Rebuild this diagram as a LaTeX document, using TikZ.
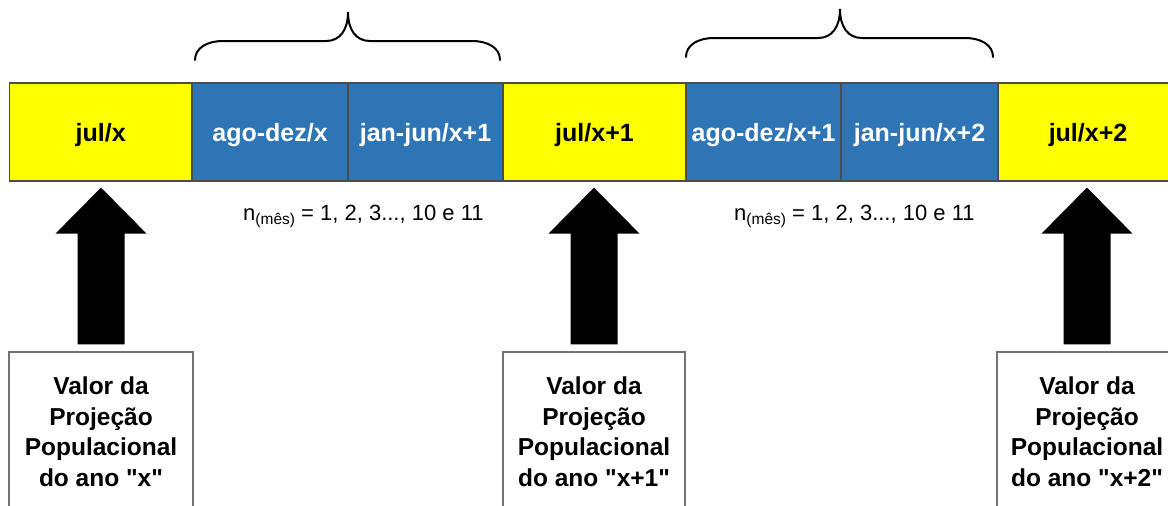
\documentclass[tikz,border=0pt]{standalone}
\usepackage{fontspec}
\setmainfont{Liberation Sans}[Ligatures=TeXOff]
\usetikzlibrary{calc}
\definecolor{cblue}{HTML}{2E75B6}
\definecolor{cyel}{HTML}{FFFF00}
\begin{document}
\begin{tikzpicture}[x=1pt,y=-1pt,
 cell/.style={draw=black!70, line width=1.2pt, minimum height=98pt, inner sep=0pt, text height=19pt, text depth=0pt, font=\fontsize{25}{25}\selectfont\bfseries},
 ycell/.style={cell, fill=cyel, text=black},
 bcell/.style={cell, fill=cblue, text=white},
 pbox/.style={draw=black!55, line width=1.2pt, fill=white, minimum height=170pt, inner sep=0pt},
 ptext/.style={inner sep=0pt, align=center, anchor=north, font=\fontsize{24.5}{30.7}\selectfont\bfseries},
 brace/.style={line width=2pt, line cap=round},
 ntext/.style={inner sep=0pt, anchor=base west, font=\fontsize{22}{22}\selectfont},
 blockarrow/.style={fill=black}
]
\path[use as bounding box, clip] (0,0) rectangle (1168,506);

% timeline cells
\node[ycell, minimum width=182.5pt] (c1) at (100.75,132) {jul/x};
\node[bcell, minimum width=156pt] (c2) at (270,132) {ago-dez/x};
\node[bcell, minimum width=155pt] (c3) at (425.5,132) {jan-jun/x+1};
\node[ycell, minimum width=183pt] (c4) at (594.5,132) {jul/x+1};
\node[bcell, minimum width=155pt] (c5) at (763.5,132) {ago-dez/x+1};
\node[bcell, minimum width=157pt] (c6) at (919.5,132) {jan-jun/x+2};
\node[ycell, minimum width=180pt] (c7) at (1088,132) {jul/x+2};

% braces
\draw[brace] (195,60) .. controls (195,48) and (207,41) .. (223,41) -- (326,41)
  .. controls (340,41) and (348,30) .. (348,12)
  .. controls (348,30) and (356,41) .. (370,41) -- (472,41)
  .. controls (488,41) and (500,48) .. (500,60);
\draw[brace] (686,57) .. controls (686,45) and (698,38) .. (714,38) -- (818,38)
  .. controls (832,38) and (840,27) .. (840,9)
  .. controls (840,27) and (848,38) .. (862,38) -- (965,38)
  .. controls (981,38) and (993,45) .. (993,57);

% n labels
\node[ntext] (n1) at (243,220.5) {n\raisebox{-4pt}{\fontsize{15.5}{15.5}\selectfont(mês)} = 1, 2, 3..., 10 e 11};
\node[ntext] (n2) at (734,220.5) {n\raisebox{-4pt}{\fontsize{15.5}{15.5}\selectfont(mês)} = 1, 2, 3..., 10 e 11};

% projection boxes
\node[pbox, minimum width=184pt] (b1) at (101,437) {};
\node[pbox, minimum width=182pt] (b2) at (594,437) {};
\node[pbox, minimum width=180pt] (b3) at (1087,437) {};
\node[ptext] (t1) at ($(b1.north)+(0,25)$) {Valor da\\Projeção\\Populacional\\do ano "x"};
\node[ptext] (t2) at ($(b2.north)+(0,25)$) {Valor da\\Projeção\\Populacional\\do ano "x+1"};
\node[ptext] (t3) at ($(b3.north)+(0,25)$) {Valor da\\Projeção\\Populacional\\do ano "x+2"};

% block arrows from boxes to july cells
\foreach \b/\c in {b1/c1, b2/c4, b3/c7}{
  \fill[blockarrow] let \p1=(\b.north), \p2=(\c.south) in
    (\x1-23.5pt,\y1+7pt) -- (\x1-23.5pt,\y2-52pt) -- (\x1-45.5pt,\y2-52pt)
    -- (\x1,\y2-6pt) -- (\x1+45.5pt,\y2-52pt) -- (\x1+23.5pt,\y2-52pt)
    -- (\x1+23.5pt,\y1+7pt) -- cycle;
}
\end{tikzpicture}
\end{document}
